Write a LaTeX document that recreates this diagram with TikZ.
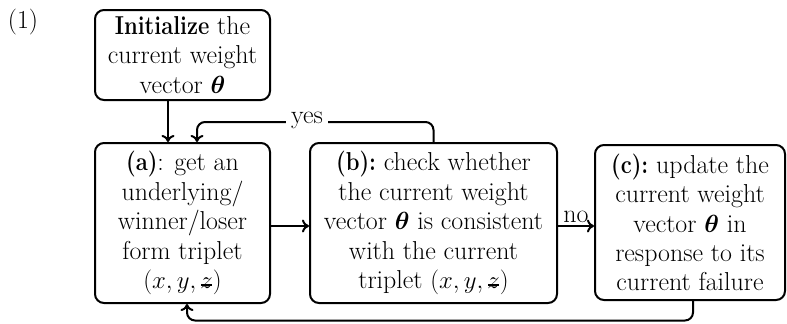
\documentclass[tikz,border=0pt]{standalone}
\usepackage{amsmath,bm}
\usetikzlibrary{arrows.meta}
\newcommand\zst{\mbox{\ooalign{$z$\cr\hidewidth\rule[.26ex]{.40em}{.13ex}\hidewidth\cr}}}
\newcommand\bfc[1]{\scalebox{0.85}[1]{\textbf{#1}}}
\tikzset{
  box/.style={draw, line width=2bp, rounded corners=9bp, align=center, inner sep=0pt,
    font=\fontsize{26}{29.5}\selectfont},
  arr/.style={line width=2bp, -{To[length=7bp,width=13bp]}},
  lbl/.style={font=\fontsize{26}{29.5}\selectfont, inner sep=1bp}
}
\begin{document}
\begin{tikzpicture}[x=1bp,y=-1bp]
\useasboundingbox (0,0) rectangle (787,323);
\node[lbl] (num) at (23,22) {(1)};
\node[box, minimum width=175bp, minimum height=90bp] (init) at (182.5,55)
  {\bfc{Initialize} the\\current weight\\vector $\bm{\theta}$};
\node[box, minimum width=175bp, minimum height=160bp] (a) at (182.5,223)
  {\bfc{(a)}: get an\\underlying/\\winner/loser\\form triplet\\$(x,y,\zst)$};
\node[box, minimum width=247bp, minimum height=160bp] (b) at (433.5,223)
  {\bfc{(b):} check whether\\the current weight\\vector $\bm{\theta}$ is consistent\\with the current\\triplet $(x,y,\zst)$};
\node[box, minimum width=190bp, minimum height=155bp] (c) at (690,222.5)
  {\bfc{(c):} update the\\current weight\\vector $\bm{\theta}$ in\\response to its\\current failure};
\draw[arr] ([xshift=-14.5bp]init.south) -- ([xshift=-14.5bp]a.north);
\draw[arr, rounded corners=8bp] (b.north) -- ++(0,-20) -| ([xshift=14.5bp]a.north);
\node[lbl, fill=white, inner xsep=5bp] (yes) at (307,120) {yes};
\draw[arr] ([yshift=-3bp]a.east) -- ([yshift=-3bp]a.east -| b.west);
\draw[arr] ([yshift=-3bp]b.east) -- ([yshift=-3bp]b.east -| c.west)
  node[lbl, midway, above=1bp] (no) {no};
\draw[arr, rounded corners=8bp] ([xshift=3bp]c.south) -- ++(0,19.5) -| ([xshift=4.5bp]a.south);
\end{tikzpicture}
\end{document}
